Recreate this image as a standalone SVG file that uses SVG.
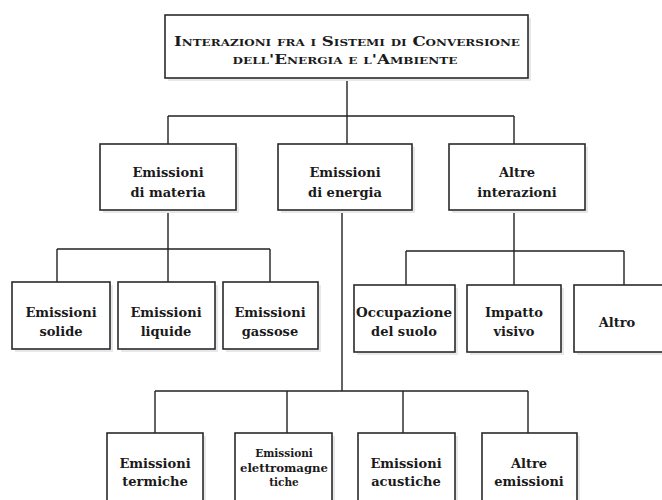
<svg xmlns="http://www.w3.org/2000/svg" width="662" height="500" viewBox="0 0 662 500">
<style>
.box{fill:#fff;stroke:#2a2a2a;stroke-width:1.6}
.sh{fill:#e6e8ec}
.t{font-family:"DejaVu Serif","Liberation Serif",serif;font-weight:bold;font-size:13px;fill:#1a1a1a;text-anchor:middle}
.s{font-size:10.5px}
.title{font-family:"DejaVu Serif","Liberation Serif",serif;font-weight:bold;font-size:12.5px;font-variant:small-caps;fill:#1a1a1a;text-anchor:middle}
.ln{fill:none;stroke:#222;stroke-width:1.4}
</style>
<rect width="662" height="500" fill="#fff"/>
<g id="connectors">
<path class="ln" d="M347,78V116M168,116H514M168,116V144M347,116V144M514,116V144"/>
<path class="ln" d="M168,210V283M57,249H270M57,249V282M270,249V282"/>
<path class="ln" d="M514,210V285M406,251H624M406,251V285M624,251V285"/>
<path class="ln" d="M342,210V391M155,391H528M155,391V433M287,391V433M403,391V433M528,391V433"/>
</g>
<g id="root">
<rect class="sh" x="168" y="18" width="363" height="63"/>
<rect class="box" x="165" y="15" width="363" height="63"/>
<text class="title" x="347" y="46" textLength="346" lengthAdjust="spacingAndGlyphs">Interazioni fra i Sistemi di Conversione</text>
<text class="title" x="345" y="64" textLength="225" lengthAdjust="spacingAndGlyphs">dell'Energia e l'Ambiente</text>
</g>
<g id="materia">
<rect class="sh" x="103" y="147" width="136" height="66"/>
<rect class="box" x="100" y="144" width="136" height="66"/>
<text class="t" x="168" y="177">Emissioni</text><text class="t" x="168" y="197">di materia</text>
</g>
<g id="energia">
<rect class="sh" x="281" y="147" width="134" height="66"/>
<rect class="box" x="278" y="144" width="134" height="66"/>
<text class="t" x="345" y="177">Emissioni</text><text class="t" x="345" y="197">di energia</text>
</g>
<g id="altre-interazioni">
<rect class="sh" x="452" y="147" width="136" height="66"/>
<rect class="box" x="449" y="144" width="136" height="66"/>
<text class="t" x="517" y="177">Altre</text><text class="t" x="517" y="197">interazioni</text>
</g>
<g id="solide">
<rect class="sh" x="15" y="285" width="98" height="67"/>
<rect class="box" x="12" y="282" width="98" height="67"/>
<text class="t" x="61" y="317">Emissioni</text><text class="t" x="61" y="336">solide</text>
</g>
<g id="liquide">
<rect class="sh" x="121" y="285" width="97" height="67"/>
<rect class="box" x="118" y="282" width="97" height="67"/>
<text class="t" x="166" y="317">Emissioni</text><text class="t" x="166" y="336">liquide</text>
</g>
<g id="gassose">
<rect class="sh" x="226" y="285" width="95" height="67"/>
<rect class="box" x="223" y="282" width="95" height="67"/>
<text class="t" x="270" y="317">Emissioni</text><text class="t" x="270" y="336">gassose</text>
</g>
<g id="occupazione">
<rect class="sh" x="357" y="288" width="101" height="67"/>
<rect class="box" x="354" y="285" width="101" height="67"/>
<text class="t" x="404" y="317" textLength="96" lengthAdjust="spacingAndGlyphs">Occupazione</text><text class="t" x="404" y="336">del suolo</text>
</g>
<g id="impatto">
<rect class="sh" x="470" y="288" width="94" height="67"/>
<rect class="box" x="467" y="285" width="94" height="67"/>
<text class="t" x="514" y="317">Impatto</text><text class="t" x="514" y="336">visivo</text>
</g>
<g id="altro">
<rect class="sh" x="577" y="288" width="90" height="67"/>
<rect class="box" x="574" y="285" width="90" height="67"/>
<text class="t" x="617" y="327">Altro</text>
</g>
<g id="termiche">
<rect class="sh" x="110" y="436" width="96" height="70"/>
<rect class="box" x="107" y="433" width="96" height="70"/>
<text class="t" x="155" y="468">Emissioni</text><text class="t" x="155" y="486">termiche</text>
</g>
<g id="elettromagnetiche">
<rect class="sh" x="238" y="436" width="97" height="70"/>
<rect class="box" x="235" y="433" width="97" height="70"/>
<text class="t s" x="284" y="457">Emissioni</text><text class="t s" x="284" y="472" textLength="88" lengthAdjust="spacingAndGlyphs">elettromagne</text><text class="t s" x="284" y="486">tiche</text>
</g>
<g id="acustiche">
<rect class="sh" x="361" y="436" width="97" height="70"/>
<rect class="box" x="358" y="433" width="97" height="70"/>
<text class="t" x="406" y="468">Emissioni</text><text class="t" x="406" y="486">acustiche</text>
</g>
<g id="altre-emissioni">
<rect class="sh" x="485" y="436" width="95" height="70"/>
<rect class="box" x="482" y="433" width="95" height="70"/>
<text class="t" x="529" y="468">Altre</text><text class="t" x="529" y="486">emissioni</text>
</g>
</svg>
